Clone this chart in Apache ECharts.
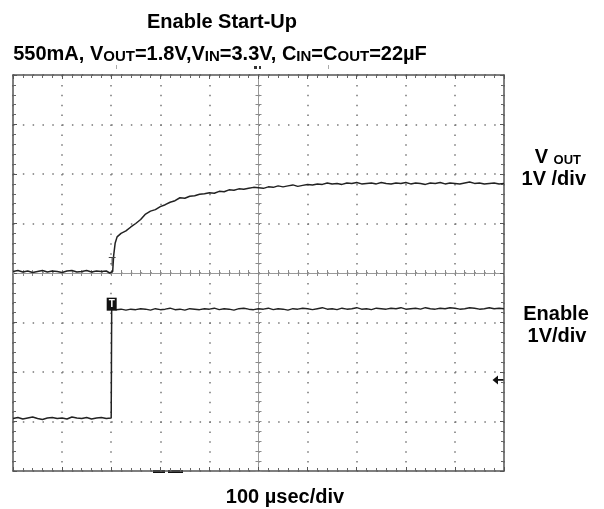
<!DOCTYPE html>
<html>
<head>
<meta charset="utf-8">
<script src="https://cdn.jsdelivr.net/npm/echarts@6/dist/echarts.min.js"></script>
<style>
  html, body { margin: 0; padding: 0; background: #fff; }
  #chart { width: 604px; height: 509px; }
</style>
</head>
<body>
<div id="chart"></div>
<script>
// time axis: 10 div x 100 us, vertical: 8 div, 1 V/div
const timeTicks = [0, 100, 200, 300, 400, 500, 600, 700, 800, 900, 1000]

// VOUT trace (us, V)
const voutTime = [
  0, 10, 20, 30, 40, 50, 60, 70, 80, 90, 100, 110, 120, 130, 140, 150, 160, 170, 180, 190,
  197, 203, 205, 208, 212,
  220, 230, 240, 250, 260, 270, 280, 290, 300, 310, 320, 330, 340, 350, 360, 370, 380, 390,
  400, 410, 420, 430, 440, 450, 460, 470, 480, 490, 500, 510, 520, 530, 540, 550, 560, 570,
  580, 590, 600, 610, 620, 630, 640, 650, 660, 670, 680, 690, 700, 710, 720, 730, 740, 750,
  760, 770, 780, 790, 800, 810, 820, 830, 840, 850, 860, 870, 880, 890, 900, 910, 920, 930,
  940, 950, 960, 970, 980, 990, 1000
]
const voutValue = [
  0.03, 0.05, 0.02, 0.04, 0.01, 0.03, 0.05, 0.02, 0.04, 0.03, 0.01, 0.04, 0.05, 0.02, 0.03, 0.05, 0.02, 0.04, 0.03, 0.04,
  0.00, 0.03, 0.35, 0.60, 0.73,
  0.80, 0.85, 0.93, 1.00, 1.08, 1.19, 1.25, 1.28, 1.34, 1.38, 1.43, 1.46, 1.52, 1.51, 1.55, 1.56, 1.59, 1.60,
  1.62, 1.61, 1.65, 1.64, 1.68, 1.67, 1.70, 1.69, 1.71, 1.73, 1.72, 1.71, 1.74, 1.73, 1.76, 1.74, 1.76, 1.78,
  1.75, 1.77, 1.79, 1.78, 1.80, 1.79, 1.82, 1.80, 1.81, 1.79, 1.82, 1.81, 1.83, 1.80, 1.81, 1.82, 1.80, 1.83,
  1.81, 1.80, 1.82, 1.81, 1.83, 1.80, 1.82, 1.81, 1.79, 1.82, 1.81, 1.83, 1.80, 1.82, 1.81, 1.80, 1.82, 1.84,
  1.81, 1.82, 1.80, 1.81, 1.82, 1.80, 1.81
]

// Enable trace (us, V)
const enableTime = [
  0, 10, 20, 30, 40, 50, 60, 70, 80, 90, 100, 110, 120, 130, 140, 150, 160, 170, 180, 190, 200,
  201, 210, 220, 230, 240, 250, 260, 270, 280, 290, 300, 310, 320, 330, 340, 350, 360, 370, 380, 390,
  400, 410, 420, 430, 440, 450, 460, 470, 480, 490, 500, 510, 520, 530, 540, 550, 560, 570,
  580, 590, 600, 610, 620, 630, 640, 650, 660, 670, 680, 690, 700, 710, 720, 730, 740, 750,
  760, 770, 780, 790, 800, 810, 820, 830, 840, 850, 860, 870, 880, 890, 900, 910, 920, 930,
  940, 950, 960, 970, 980, 990, 1000
]
const enableValue = [
  0.00, 0.02, -0.01, 0.01, 0.03, 0.00, -0.02, 0.01, 0.02, 0.00, 0.01, -0.01, 0.03, 0.01, 0.00, 0.02, -0.01, 0.01, 0.02, 0.00, 0.01,
  2.22, 2.20, 2.21, 2.19, 2.21, 2.20, 2.22, 2.21, 2.19, 2.22, 2.20, 2.21, 2.23, 2.20, 2.21, 2.19, 2.22, 2.21, 2.20, 2.22,
  2.21, 2.23, 2.20, 2.22, 2.21, 2.19, 2.22, 2.23, 2.21, 2.20, 2.22, 2.21, 2.23, 2.20, 2.22, 2.21, 2.19, 2.22,
  2.21, 2.23, 2.22, 2.20, 2.22, 2.24, 2.21, 2.22, 2.20, 2.23, 2.21, 2.22, 2.24, 2.21, 2.22, 2.20, 2.23, 2.22,
  2.21, 2.23, 2.22, 2.24, 2.21, 2.22, 2.23, 2.21, 2.24, 2.22, 2.21, 2.23, 2.22, 2.24, 2.23, 2.21, 2.22, 2.24,
  2.23, 2.21, 2.22, 2.24, 2.22, 2.23, 2.22
]

// channel ground positions in divisions from screen centre
const voutGround = 0
const enableGround = -2.94
const voltsPerDiv = 1
const triggerTime = 201
const triggerLevel = 0.78

const FONT = '"Liberation Sans", Arial, sans-serif'
const INK = '#222'

function toDiv(values, ground) {
  return values.map((v) => v / voltsPerDiv + ground)
}
const voutData = voutTime.map((t, i) => [t, toDiv(voutValue, voutGround)[i]])
const enableData = enableTime.map((t, i) => [t, toDiv(enableValue, enableGround)[i]])

const dots = (period) => [1.5, period - 1.5]

function timeAxis(extra) {
  return Object.assign({
    type: 'value',
    min: timeTicks[0],
    max: timeTicks[timeTicks.length - 1],
    interval: 100,
    axisLabel: { show: false },
    axisLine: { show: true, onZero: false, lineStyle: { color: '#555', width: 1.5 } },
    axisTick: { show: true, inside: true, length: 4, lineStyle: { color: '#555' } },
    minorTick: { show: true, splitNumber: 5, length: 3, lineStyle: { color: '#666' } },
    splitLine: { show: false }
  }, extra)
}
function voltAxis(extra) {
  return Object.assign({
    type: 'value',
    min: -4,
    max: 4,
    interval: 1,
    axisLabel: { show: false },
    axisLine: { show: true, onZero: false, lineStyle: { color: '#555', width: 1.5 } },
    axisTick: { show: true, inside: true, length: 4, lineStyle: { color: '#555' } },
    minorTick: { show: true, splitNumber: 5, length: 3, lineStyle: { color: '#666' } },
    splitLine: { show: false }
  }, extra)
}
const centreLine = { show: true, onZero: false, lineStyle: { color: '#9a9a9a', width: 1 } }
const centreTick = (inside) => ({ show: true, inside: inside, length: 3, lineStyle: { color: '#8a8a8a' } })
const centreMinor = { show: true, splitNumber: 5, length: 3, lineStyle: { color: '#8a8a8a' } }

const options = {
  backgroundColor: '#fff',
  animation: false,
  grid: { left: 13, top: 75, width: 491, height: 396 },
  xAxis: [
    timeAxis({
      position: 'bottom',
      splitLine: { show: true, lineStyle: { color: '#777', width: 1.5, type: dots(9.9) } }
    }),
    timeAxis({ position: 'top' }),
    timeAxis({ position: 'bottom', offset: -198, axisLine: centreLine, axisTick: centreTick(true), minorTick: centreMinor }),
    timeAxis({ position: 'bottom', offset: -198, axisLine: centreLine, axisTick: centreTick(false), minorTick: centreMinor })
  ],
  yAxis: [
    voltAxis({
      position: 'left',
      splitLine: { show: true, lineStyle: { color: '#777', width: 1.5, type: dots(9.82) } }
    }),
    voltAxis({ position: 'right' }),
    voltAxis({ position: 'left', offset: -245.5, axisLine: centreLine, axisTick: centreTick(true), minorTick: centreMinor }),
    voltAxis({ position: 'left', offset: -245.5, axisLine: centreLine, axisTick: centreTick(false), minorTick: centreMinor })
  ],
  series: [
    {
      name: 'VOUT',
      type: 'line',
      data: voutData,
      showSymbol: false,
      lineStyle: { color: INK, width: 1.5 },
      markPoint: {
        symbol: 'rect',
        symbolSize: 1,
        itemStyle: { color: 'rgba(0,0,0,0)' },
        label: { show: true, formatter: 'T', color: '#444', fontSize: 12, fontFamily: FONT },
        data: [{ coord: [triggerTime + 1, toDiv([0.2], voutGround)[0]] }]
      }
    },
    {
      name: 'Enable',
      type: 'line',
      data: enableData,
      showSymbol: false,
      lineStyle: { color: INK, width: 1.5 },
      markPoint: {
        data: [
          {
            coord: [triggerTime, toDiv([2.31], enableGround)[0]],
            symbol: 'rect',
            symbolSize: [10, 13],
            itemStyle: { color: '#111' },
            label: { show: true, formatter: 'T', color: '#fff', fontSize: 10, fontWeight: 'bold', fontFamily: FONT }
          },
          {
            coord: [1000, toDiv([triggerLevel], enableGround)[0]],
            symbol: 'path://M0,5 L6,0 L6,4 L12,4 L12,6 L6,6 L6,10 Z',
            symbolSize: [11, 9],
            symbolOffset: [-6, 0],
            itemStyle: { color: '#111' },
            label: { show: false }
          }
        ]
      }
    }
  ],
  graphic: [
    {
      type: 'text', x: 222, y: 22,
      style: { text: 'Enable Start-Up', font: 'bold 20px ' + FONT, fill: '#000', textAlign: 'center', textVerticalAlign: 'middle' }
    },
    {
      type: 'text', x: 220, y: 54,
      style: {
        text: '550mA, V{s|OUT}=1.8V,V{s|IN}=3.3V, C{s|IN}=C{s|OUT}=22µF',
        font: 'bold 20px ' + FONT, fill: '#000', textAlign: 'center', textVerticalAlign: 'middle',
        rich: { s: { font: 'bold 15px ' + FONT, fill: '#000', verticalAlign: 'bottom' } }
      }
    },
    {
      type: 'text', x: 581, y: 157,
      style: {
        text: 'V {s|OUT}', font: 'bold 20px ' + FONT, fill: '#000', textAlign: 'right', textVerticalAlign: 'middle',
        rich: { s: { font: 'bold 13px ' + FONT, fill: '#000', verticalAlign: 'bottom' } }
      }
    },
    {
      type: 'text', x: 586, y: 179,
      style: { text: '1V /div', font: 'bold 20px ' + FONT, fill: '#000', textAlign: 'right', textVerticalAlign: 'middle' }
    },
    {
      type: 'text', x: 556, y: 314,
      style: { text: 'Enable', font: 'bold 20px ' + FONT, fill: '#000', textAlign: 'center', textVerticalAlign: 'middle' }
    },
    {
      type: 'text', x: 557, y: 336,
      style: { text: '1V/div', font: 'bold 20px ' + FONT, fill: '#000', textAlign: 'center', textVerticalAlign: 'middle' }
    },
    {
      type: 'text', x: 285, y: 497,
      style: { text: '100 µsec/div', font: 'bold 20px ' + FONT, fill: '#000', textAlign: 'center', textVerticalAlign: 'middle' }
    },
    // scope screen markers
    { type: 'rect', shape: { x: 254, y: 66, width: 3, height: 3 }, style: { fill: '#333' } },
    { type: 'rect', shape: { x: 259, y: 66, width: 2, height: 3 }, style: { fill: '#333' } },
    { type: 'rect', shape: { x: 116, y: 65, width: 1, height: 4 }, style: { fill: '#aaa' } },
    { type: 'rect', shape: { x: 328, y: 65, width: 1, height: 4 }, style: { fill: '#aaa' } },
    { type: 'rect', shape: { x: 153, y: 470, width: 12, height: 3 }, style: { fill: '#111' } },
    { type: 'rect', shape: { x: 168, y: 470, width: 15, height: 3 }, style: { fill: '#111' } }
  ]
}

const chart = echarts.init(document.getElementById('chart'))
chart.setOption(options)
</script>
</body>
</html>
